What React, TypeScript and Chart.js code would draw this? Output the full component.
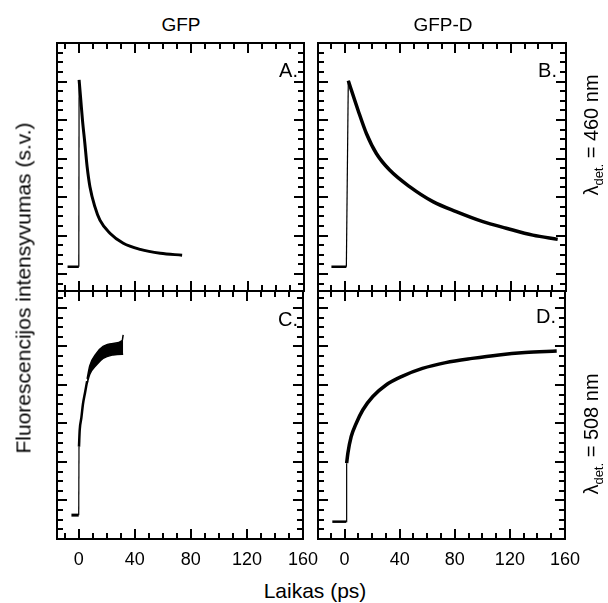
import React, { useEffect, useRef } from "react";
import { Chart, registerables } from "chart.js";
Chart.register(...registerables);

const FONT = "'Liberation Sans', Arial, Helvetica, sans-serif";

// ---- axes ----
const X_MAX = 160;
const X_MIN_LEFT = -15.5;
const X_MIN_RIGHT = -19.3;
const X_TICK_LABELS = [0, 40, 80, 120, 160];
const X_MINOR_STEP = 10;
const X_MAJOR_STEP = 40;
const Y_MINOR_STEP = 0.25;
const Y_MAJOR_STEP = 1;
const Y_TOP_MIN = -0.44;
const Y_TOP_MAX = 6;
const Y_BOTTOM_MIN = 0;
const Y_BOTTOM_MAX = 6.44;

// ---- Panel A (GFP, 460 nm) ----
const A_BASE_T = [-8, 0];
const A_BASE_V = [0.19, 0.19];
const A_RISE_T = [0, 0.2];
const A_RISE_V = [0.19, 5.04];
const A_DECAY_T = [0.2, 1.4, 2.6, 4.3, 5.9, 7.9, 11.4, 15, 22.1, 31.6, 43.6, 57.9, 73.4];
const A_DECAY_V = [5.04, 4.52, 4.0, 3.39, 2.79, 2.27, 1.75, 1.4, 1.06, 0.8, 0.64, 0.54, 0.49];

// ---- Panel B (GFP-D, 460 nm) ----
const B_BASE_T = [-9.6, 1.2];
const B_BASE_V = [0.19, 0.19];
const B_RISE_T = [1.2, 2.6];
const B_RISE_V = [0.19, 5.02];
const B_DECAY_T = [2.6, 9.6, 15.7, 22.9, 32.5, 46.9, 63.8, 80.6, 99.9, 116.8, 136, 154];
const B_DECAY_V = [5.02, 4.26, 3.65, 3.13, 2.7, 2.27, 1.88, 1.62, 1.36, 1.19, 1.01, 0.9];

// ---- Panel C (GFP, 508 nm) ----
const C_BASE_T = [-5.2, 0];
const C_BASE_V = [0.62, 0.62];
const C_RISE_T = [0, 0.2];
const C_RISE_V = [0.62, 2.4];
const C_RISE2_T = [0.2, 0.7, 1.9, 3.0, 4.5, 6.0];
const C_RISE2_V = [2.4, 2.83, 3.15, 3.5, 3.8, 4.1];
const C_BAND_T = [6.0, 7.9, 12.6, 17.4, 24.5, 31.0, 31.7];
const C_BAND_HI = [4.16, 4.5, 4.82, 5.0, 5.08, 5.15, 5.3];
const C_BAND_LO = [4.04, 4.28, 4.52, 4.69, 4.78, 4.8, 4.8];

// ---- Panel D (GFP-D, 508 nm) ----
const D_BASE_T = [-8.9, 1.2];
const D_BASE_V = [0.45, 0.45];
const D_RISE_T = [1.2, 1.5];
const D_RISE_V = [0.45, 1.97];
const D_CURVE_T = [1.5, 2.4, 4.8, 8.4, 13.2, 20.5, 30.1, 42.1, 56.5, 73.4, 92.6, 112, 131, 154];
const D_CURVE_V = [1.97, 2.23, 2.66, 3.0, 3.35, 3.7, 4.0, 4.23, 4.43, 4.58, 4.69, 4.78, 4.84, 4.88];

const pts = (t: number[], v: number[]) => t.map((x, i) => ({ x, y: v[i] }));

const line = (t: number[], v: number[], width: number, smooth = false, extra: any = {}) => ({
  data: pts(t, v),
  borderColor: "#000",
  backgroundColor: "#000",
  borderWidth: width,
  pointRadius: 0,
  fill: false,
  tension: 0,
  cubicInterpolationMode: smooth ? "monotone" : "default",
  ...extra,
});

const framePlugin = {
  id: "frame",
  afterDatasetsDraw(chart: any) {
    const { ctx, chartArea: a, scales } = chart;
    const xs = scales.x;
    const ys = scales.y;
    ctx.save();
    ctx.strokeStyle = "#000";
    ctx.lineWidth = 2;
    ctx.beginPath();
    const x0 = Math.ceil(xs.min / X_MINOR_STEP) * X_MINOR_STEP;
    for (let v = x0; v <= xs.max + 1e-9; v += X_MINOR_STEP) {
      const major = Math.abs(v % X_MAJOR_STEP) < 1e-6;
      const len = major ? 10 : 6;
      const px = Math.round(xs.getPixelForValue(v));
      ctx.moveTo(px, a.bottom);
      ctx.lineTo(px, a.bottom - len);
      ctx.moveTo(px, a.top);
      ctx.lineTo(px, a.top + len);
    }
    const y0 = Math.ceil(ys.min / Y_MINOR_STEP) * Y_MINOR_STEP;
    for (let v = y0; v <= ys.max + 1e-9; v += Y_MINOR_STEP) {
      const major = Math.abs(v - Math.round(v / Y_MAJOR_STEP) * Y_MAJOR_STEP) < 1e-6;
      const len = major ? 10 : 6;
      const py = Math.round(ys.getPixelForValue(v));
      ctx.moveTo(a.left, py);
      ctx.lineTo(a.left + len, py);
      ctx.moveTo(a.right, py);
      ctx.lineTo(a.right - len, py);
    }
    ctx.stroke();
    ctx.lineWidth = 2;
    ctx.strokeRect(a.left, a.top, a.right - a.left, a.bottom - a.top);
    ctx.restore();
  },
};

type PanelProps = {
  L: number; T: number; R: number; B: number;
  xMin: number; yMin: number; yMax: number;
  datasets: any[]; showX: boolean;
};

const PAD_X = 24;
const PAD_TOP = 6;
const LABEL_H = 40;

function Panel({ L, T, R, B, xMin, yMin, yMax, datasets, showX }: PanelProps) {
  const ref = useRef<HTMLCanvasElement>(null);
  const W = R - L + 2 * PAD_X;
  const H = B - T + PAD_TOP + (showX ? LABEL_H : 6);
  useEffect(() => {
    if (!ref.current) return;
    const xScale: any = {
      type: "linear",
      display: showX,
      min: xMin,
      max: X_MAX,
      grid: { display: false, drawTicks: false },
      border: { display: false },
      afterBuildTicks: (s: any) => {
        s.ticks = X_TICK_LABELS.map((v) => ({ value: v }));
      },
      ticks: {
        color: "#000",
        font: { family: FONT, size: 18 },
        padding: 10,
        maxRotation: 0,
        autoSkip: false,
      },
    };
    if (showX) xScale.afterFit = (s: any) => { s.height = LABEL_H; };
    const chart = new Chart(ref.current, {
      type: "line",
      data: { datasets },
      options: {
        animation: false,
        responsive: false,
        devicePixelRatio: 1,
        layout: { padding: { left: PAD_X, right: PAD_X, top: PAD_TOP, bottom: showX ? 0 : 6 } },
        plugins: { legend: { display: false }, tooltip: { enabled: false } },
        scales: {
          x: xScale,
          y: { type: "linear", display: false, min: yMin, max: yMax },
        },
      },
      plugins: [framePlugin],
    } as any);
    return () => chart.destroy();
  }, []);
  return (
    <canvas
      ref={ref}
      width={W}
      height={H}
      style={{ position: "absolute", left: L - PAD_X, top: T - PAD_TOP, width: W, height: H }}
    />
  );
}

const textBase: React.CSSProperties = {
  position: "absolute",
  fontFamily: FONT,
  color: "#000",
  lineHeight: 1,
  whiteSpace: "nowrap",
};

function Rotated({ cx, cy, size, children }: { cx: number; cy: number; size: number; children: any }) {
  return (
    <div
      style={{
        ...textBase,
        left: cx,
        top: cy,
        fontSize: size,
        transform: "translate(-50%, -50%) rotate(-90deg)",
      }}
    >
      {children}
    </div>
  );
}

export default function App() {
  const dsA = [
    line(A_BASE_T, A_BASE_V, 2.5),
    line(A_RISE_T, A_RISE_V, 1.2),
    line(A_DECAY_T, A_DECAY_V, 3, true),
  ];
  const dsB = [
    line(B_BASE_T, B_BASE_V, 2.5),
    line(B_RISE_T, B_RISE_V, 1.2),
    line(B_DECAY_T, B_DECAY_V, 3.5, true),
  ];
  const dsC = [
    line(C_BASE_T, C_BASE_V, 3),
    line(C_RISE_T, C_RISE_V, 1.2),
    line(C_RISE2_T, C_RISE2_V, 2.5, true),
    line(C_BAND_T, C_BAND_HI, 1.5, true, { fill: "+1" }),
    line(C_BAND_T, C_BAND_LO, 1.5, true),
  ];
  const dsD = [
    line(D_BASE_T, D_BASE_V, 2.5),
    line(D_RISE_T, D_RISE_V, 1.2),
    line(D_CURVE_T, D_CURVE_V, 3.5, true),
  ];
  return (
    <div style={{ position: "absolute", left: 0, top: 0, width: 608, height: 603, background: "#fff", overflow: "hidden" }}>
      <Panel L={57} T={43} R={304} B={291} xMin={X_MIN_LEFT} yMin={Y_TOP_MIN} yMax={Y_TOP_MAX} datasets={dsA} showX={false} />
      <Panel L={318} T={43} R={566} B={291} xMin={X_MIN_RIGHT} yMin={Y_TOP_MIN} yMax={Y_TOP_MAX} datasets={dsB} showX={false} />
      <Panel L={57} T={291} R={304} B={539} xMin={X_MIN_LEFT} yMin={Y_BOTTOM_MIN} yMax={Y_BOTTOM_MAX} datasets={dsC} showX={true} />
      <Panel L={318} T={291} R={566} B={539} xMin={X_MIN_RIGHT} yMin={Y_BOTTOM_MIN} yMax={Y_BOTTOM_MAX} datasets={dsD} showX={true} />

      <div style={{ ...textBase, fontSize: 19, left: 181, top: 14.5, transform: "translateX(-50%)" }}>GFP</div>
      <div style={{ ...textBase, fontSize: 19, left: 443, top: 14.5, transform: "translateX(-50%)" }}>GFP-D</div>

      <div style={{ ...textBase, fontSize: 20, right: 608 - 298, top: 59.5 }}>A.</div>
      <div style={{ ...textBase, fontSize: 20, right: 608 - 557, top: 59.5 }}>B.</div>
      <div style={{ ...textBase, fontSize: 20, right: 608 - 298, top: 309 }}>C.</div>
      <div style={{ ...textBase, fontSize: 20, right: 608 - 556, top: 306 }}>D.</div>

      <Rotated cx={22.5} cy={287.5} size={21}>Fluorescencijos intensyvumas (s.v.)</Rotated>
      <div style={{ ...textBase, fontSize: 21, left: 315, top: 580, transform: "translateX(-50%)" }}>Laikas (ps)</div>

      <Rotated cx={593} cy={135} size={20}>
        λ<sub style={{ fontSize: "0.65em" }}>det.</sub> = 460 nm
      </Rotated>
      <Rotated cx={593} cy={434} size={20}>
        λ<sub style={{ fontSize: "0.65em" }}>det.</sub> = 508 nm
      </Rotated>
    </div>
  );
}
